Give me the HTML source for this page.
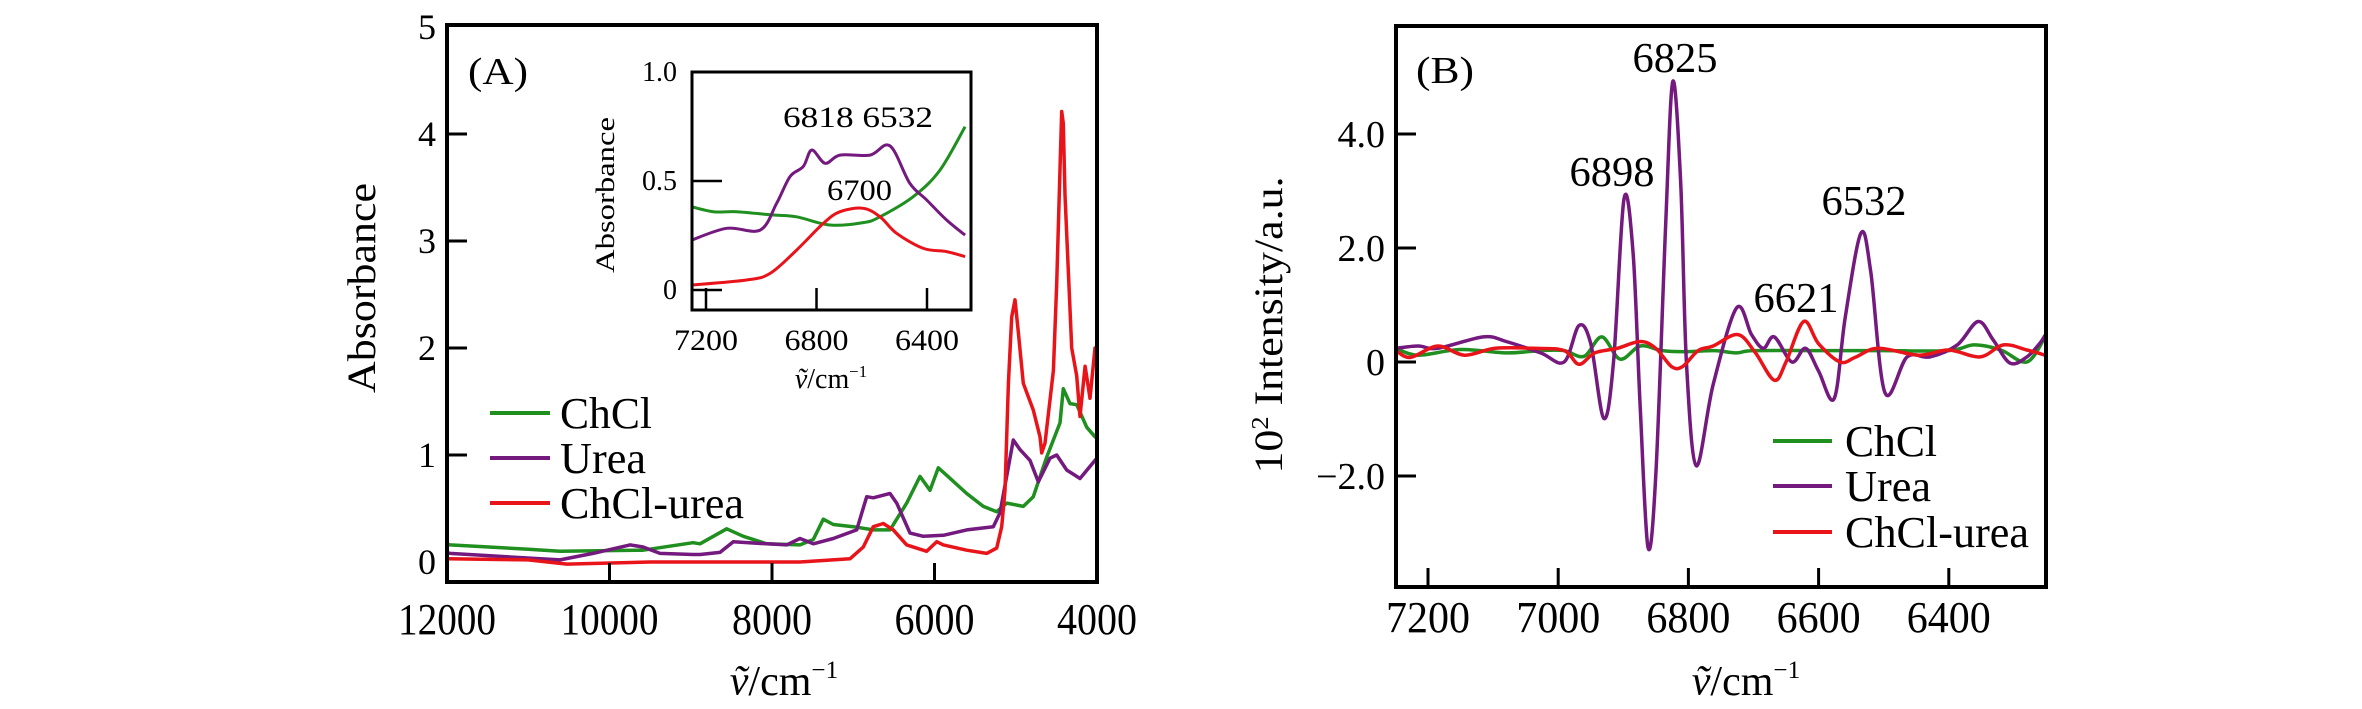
<!DOCTYPE html>
<html><head><meta charset="utf-8"><style>
html,body{margin:0;padding:0;background:#fff;}
svg{display:block;font-family:"Liberation Serif",serif;}
</style></head><body>
<svg id="fig" width="2362" height="709" viewBox="0 0 2362 709" xmlns="http://www.w3.org/2000/svg">
<defs>
<clipPath id="clipA"><rect x="447" y="25" width="650" height="557"/></clipPath>
<clipPath id="clipI"><rect x="692" y="72" width="279" height="238"/></clipPath>
<clipPath id="clipB"><rect x="1396" y="26" width="650" height="561"/></clipPath>
</defs>
<g id="panelA"></g>
<g id="inset"></g>
<g id="panelB"></g>
</svg>
<script>
// ---------- Panel A data ----------
const aGreenWn = [12000,11963,11000,10609,9587,8972,8886,8558,8353,8065,7655,7492,7369,7245,7000,6753,6548,6342,6178,6055,5953,5850,5604,5399,5234,5111,4907,4784,4619,4455,4415,4332,4250,4127,4024,4000];
const aGreenVal = [0.17,0.16,0.12,0.10,0.11,0.18,0.17,0.31,0.24,0.17,0.16,0.21,0.40,0.35,0.33,0.30,0.30,0.55,0.80,0.67,0.88,0.81,0.64,0.52,0.47,0.55,0.52,0.61,0.98,1.30,1.62,1.48,1.47,1.26,1.17,1.20];
const aPurpleWn = [12000,11963,10609,10203,9748,9587,9378,8972,8886,8640,8476,8065,7819,7655,7492,7245,6958,6835,6753,6548,6465,6301,6138,5891,5604,5276,5194,5030,4948,4825,4722,4578,4496,4373,4209,4024,4000];
const aPurpleVal = [0.09,0.08,0.02,0.08,0.16,0.14,0.08,0.07,0.07,0.09,0.19,0.17,0.16,0.22,0.17,0.22,0.30,0.61,0.60,0.64,0.55,0.27,0.24,0.25,0.30,0.33,0.46,1.14,1.05,0.95,0.75,0.97,1.00,0.86,0.78,0.95,0.97];
const aRedWn = [12000,11000,10523,9500,8886,7655,7040,6876,6753,6630,6507,6342,6096,5973,5891,5604,5358,5234,5173,5132,5091,5050,5009,4968,4907,4784,4701,4681,4640,4537,4496,4450,4434,4415,4394,4311,4250,4209,4147,4086,4024,4000];
const aRedVal = [0.03,0.02,-0.02,0.0,0.0,0.0,0.03,0.14,0.33,0.36,0.30,0.16,0.10,0.19,0.16,0.11,0.08,0.13,0.33,0.67,1.67,2.29,2.45,2.14,1.67,1.42,1.17,1.02,1.11,1.79,2.60,3.8,4.21,4.1,3.43,2.0,1.74,1.36,1.83,1.53,2.0,1.8];
const aYTicks = [0,1,2,3,4,5];
const aXTicks = [12000,10000,8000,6000,4000];
// ---------- Inset data ----------
const iPurpleWn = [7252,7125,7004,6944,6896,6848,6817,6769,6715,6606,6534,6462,6401,6329,6262];
const iPurpleVal = [0.229,0.283,0.275,0.398,0.52,0.566,0.642,0.581,0.619,0.619,0.661,0.489,0.413,0.321,0.252];
const iGreenWn = [7252,7174,7089,6956,6872,6751,6631,6570,6450,6353,6262];
const iGreenVal = [0.382,0.359,0.359,0.344,0.336,0.298,0.309,0.336,0.428,0.55,0.749];
const iRedWn = [7252,7053,6968,6872,6775,6715,6631,6570,6510,6413,6329,6262];
const iRedVal = [0.023,0.046,0.076,0.183,0.306,0.359,0.375,0.336,0.26,0.191,0.176,0.153];
const iYTicks = ["1.0","0.5","0"];
const iYTickVals = [1.0,0.5,0];
const iXTicks = [7200,6800,6400];
// ---------- Panel B data ----------
const bPurpleWn = [7249,7215,7185,7115,7080,7027,6991,6968,6950,6930,6915,6899,6885,6874,6862,6850,6835,6824,6812,6803,6788,6762,6726,6703,6685,6668,6641,6620,6600,6576,6559,6535,6520,6498,6464,6429,6387,6355,6332,6306,6280,6260,6252];
const bPurpleVal = [0.24,0.28,0.24,0.44,0.36,0.16,0.0,0.64,0.32,-0.99,0.0,2.86,1.91,-0.79,-3.25,-1.98,2.38,4.92,3.18,0.0,-1.82,-0.40,0.95,0.48,0.24,0.44,0.0,0.24,-0.16,-0.64,0.79,2.26,1.59,-0.54,0.09,0.09,0.30,0.71,0.39,-0.02,0.09,0.33,0.47];
const bGreenWn = [7249,7215,7150,7080,7027,6991,6960,6933,6905,6874,6840,6803,6760,6726,6700,6600,6500,6400,6361,6320,6280,6252];
const bGreenVal = [0.24,0.12,0.22,0.16,0.2,0.2,0.1,0.44,0.05,0.28,0.2,0.18,0.2,0.16,0.2,0.2,0.2,0.2,0.3,0.21,0.0,0.44];
const bRedWn = [7249,7227,7185,7144,7097,7038,6991,6968,6944,6909,6874,6850,6826,6809,6785,6762,6724,6697,6668,6650,6623,6600,6567,6544,6509,6446,6400,6352,6316,6280,6252];
const bRedVal = [0.2,0.08,0.28,0.12,0.24,0.24,0.2,-0.04,0.16,0.24,0.36,0.24,-0.08,-0.08,0.2,0.28,0.48,0.16,-0.32,0.0,0.71,0.32,0.0,0.08,0.24,0.12,0.21,0.09,0.30,0.21,0.12];
const bYTickLabels = ["4.0","2.0","0","\u22122.0"];
const bYTickVals = [4,2,0,-2];
const bXTicks = [7200,7000,6800,6600,6400];
const bPeakLabels = ["6898","6825","6621","6532"];

const NS = "http://www.w3.org/2000/svg";
const GREEN="#1f8f1f", PURPLE="#74197e", RED="#e8141a";
function mk(tag, attrs, parent){const e=document.createElementNS(NS,tag);for(const k in attrs)e.setAttribute(k,attrs[k]);parent.appendChild(e);return e;}
function txt(parent,x,y,s,size,anchor,len){const t=mk("text",{x:x,y:y,"font-size":size,"text-anchor":anchor||"start",fill:"#000"},parent);t.textContent=s;if(len){t.setAttribute("textLength",len);t.setAttribute("lengthAdjust","spacingAndGlyphs");}return t;}
function smoothPath(P){
  let d="M"+P[0][0].toFixed(1)+","+P[0][1].toFixed(1);
  for(let i=0;i<P.length-1;i++){
    const p0=P[Math.max(0,i-1)],p1=P[i],p2=P[i+1],p3=P[Math.min(P.length-1,i+2)];
    const c1x=p1[0]+(p2[0]-p0[0])/6,c1y=p1[1]+(p2[1]-p0[1])/6;
    const c2x=p2[0]-(p3[0]-p1[0])/6,c2y=p2[1]-(p3[1]-p1[1])/6;
    d+=" C"+c1x.toFixed(1)+","+c1y.toFixed(1)+" "+c2x.toFixed(1)+","+c2y.toFixed(1)+" "+p2[0].toFixed(1)+","+p2[1].toFixed(1);
  }
  return d;
}
function series(parent,wn,val,sx,sy,color,clip,name,w,smooth){
  const P=wn.map((v,i)=>[sx(v),sy(val[i])]);
  let p;
  if(smooth){
    p=mk("path",{d:smoothPath(P),fill:"none",stroke:color,"stroke-width":w||3.5,"stroke-linejoin":"round","clip-path":"url(#"+clip+")"},parent);
  } else {
    const pts=P.map(q=>q[0].toFixed(1)+","+q[1].toFixed(1)).join(" ");
    p=mk("polyline",{points:pts,fill:"none",stroke:color,"stroke-width":w||3.5,"stroke-linejoin":"round","clip-path":"url(#"+clip+")"},parent);
  }
  
  
}
function nuTitle(parent,cx,y,size,name){
  const t=mk("text",{x:cx,y:y,"font-size":size,"text-anchor":"middle"},parent);
  
  
  const a=mk("tspan",{"font-style":"italic"},t);a.textContent="\u1E7D";
  const b=mk("tspan",{},t);b.textContent="/cm";
  const c=mk("tspan",{"font-size":size*0.6,dy:-size*0.4},t);c.textContent="\u22121";
}

// ===== Panel A =====
const gA=document.getElementById("panelA");
const axX=wn=>447+(12000-wn)*650/8000, axY=v=>562-v*107;
series(gA,aGreenWn,aGreenVal,axX,axY,GREEN,"clipA","chcl-line-a");
series(gA,aPurpleWn,aPurpleVal,axX,axY,PURPLE,"clipA","urea-line-a");
series(gA,aRedWn,aRedVal,axX,axY,RED,"clipA","chcl-urea-line-a");
let fr=mk("rect",{x:447,y:25,width:650,height:557,fill:"none",stroke:"#000","stroke-width":4},gA);

aYTicks.forEach(v=>{const y=axY(v);
  if(v>0&&v<5){const l=mk("line",{x1:447,x2:467,y1:y,y2:y,stroke:"#000","stroke-width":3},gA);}
  const t=txt(gA,436,y+12,String(v),36,"end");});
aXTicks.forEach(v=>{const x=axX(v);
  if(v<12000&&v>4000){const l=mk("line",{x1:x,x2:x,y1:582,y2:563,stroke:"#000","stroke-width":3},gA);}
  const t=txt(gA,x,634,String(v),44,"middle",v>=10000?98:80);});
let yt=txt(gA,0,0,"Absorbance",40,"middle",210);yt.setAttribute("transform","translate(375,288) rotate(-90)");

nuTitle(gA,784,695,42,"x-axis-title-a");
let pa=txt(gA,468,84,"(A)",38,"start",60);
[["ChCl",GREEN,413],["Urea",PURPLE,458],["ChCl-urea",RED,503]].forEach(([s,c,y],i)=>{
  const g=mk("g",{},gA);
  mk("line",{x1:490,x2:550,y1:y,y2:y,stroke:c,"stroke-width":4},g);
  txt(g,560,y+15,s,44,"start",[92,86,184][i]);
});

// ===== Inset =====
const gI=document.getElementById("inset");
const ix=wn=>706+(7200-wn)*221/800, iy=v=>290-v*218;
mk("rect",{x:692,y:72,width:279,height:238,fill:"#fff"},gI);
series(gI,iGreenWn,iGreenVal,ix,iy,GREEN,"clipI","chcl-line-inset",3,true);
series(gI,iPurpleWn,iPurpleVal,ix,iy,PURPLE,"clipI","urea-line-inset",3,true);
series(gI,iRedWn,iRedVal,ix,iy,RED,"clipI","chcl-urea-line-inset",3,true);
let fi=mk("rect",{x:692,y:72,width:279,height:238,fill:"none",stroke:"#000","stroke-width":3},gI);

iYTickVals.forEach((v,i)=>{const y=iy(v);
  if(v<1){const l=mk("line",{x1:692,x2:722,y1:y,y2:y,stroke:"#000","stroke-width":2.5},gI);}
  const t=txt(gI,677,y+9,iYTicks[i],28,"end");});
iXTicks.forEach(v=>{const x=ix(v);
  const l=mk("line",{x1:x,x2:x,y1:310,y2:288,stroke:"#000","stroke-width":2.5},gI);
  const t=txt(gI,x,350,String(v),30,"middle",64);});
let iyt=txt(gI,0,0,"Absorbance",26,"middle",156);iyt.setAttribute("transform","translate(614,195) rotate(-90)");

nuTitle(gI,831,388,28,"inset-x-axis-title");
let l1=txt(gI,783,127,"6818  6532",30,"start",150);
let l2=txt(gI,827,200,"6700",30,"start",65);

// ===== Panel B =====
const gB=document.getElementById("panelB");
const bx=wn=>1428+(7200-wn)*0.651, by=v=>362-v*57;
series(gB,bGreenWn,bGreenVal,bx,by,GREEN,"clipB","chcl-line-b",3.5,true);
series(gB,bPurpleWn,bPurpleVal,bx,by,PURPLE,"clipB","urea-line-b",3.5,true);
series(gB,bRedWn,bRedVal,bx,by,RED,"clipB","chcl-urea-line-b",3.5,true);
let fb=mk("rect",{x:1396,y:26,width:650,height:561,fill:"none",stroke:"#000","stroke-width":4},gB);

bYTickVals.forEach((v,i)=>{const y=by(v);
  const l=mk("line",{x1:1396,x2:1416,y1:y,y2:y,stroke:"#000","stroke-width":3},gB);
  const t=txt(gB,1385,y+13,bYTickLabels[i],38,"end");});
bXTicks.forEach(v=>{const x=bx(v);
  const l=mk("line",{x1:x,x2:x,y1:587,y2:568,stroke:"#000","stroke-width":3},gB);
  const t=txt(gB,x,632,String(v),44,"middle",84);});
let byt=mk("text",{transform:"translate(1282,325) rotate(-90)","font-size":40,"text-anchor":"middle",textLength:297,lengthAdjust:"spacingAndGlyphs"},gB);

let s1=mk("tspan",{},byt);s1.textContent="10";let s2=mk("tspan",{"font-size":24,dy:-14},byt);s2.textContent="2";let s3=mk("tspan",{dy:14},byt);s3.textContent=" Intensity/a.u.";
nuTitle(gB,1746,695,42,"x-axis-title-b");
let pb=txt(gB,1416,83,"(B)",38,"start",58);
const bPeakPos=[[1612,186],[1675,72],[1796,312],[1864,215]];
bPeakLabels.forEach((s,i)=>{const t=txt(gB,bPeakPos[i][0],bPeakPos[i][1],s,42,"middle",85);
  });
[["ChCl",GREEN,441],["Urea",PURPLE,486],["ChCl-urea",RED,532]].forEach(([s,c,y],i)=>{
  const g=mk("g",{},gB);
  mk("line",{x1:1773,x2:1832,y1:y,y2:y,stroke:c,"stroke-width":4},g);
  txt(g,1845,y+15,s,44,"start",[92,86,184][i]);
});
</script>
</body></html>
